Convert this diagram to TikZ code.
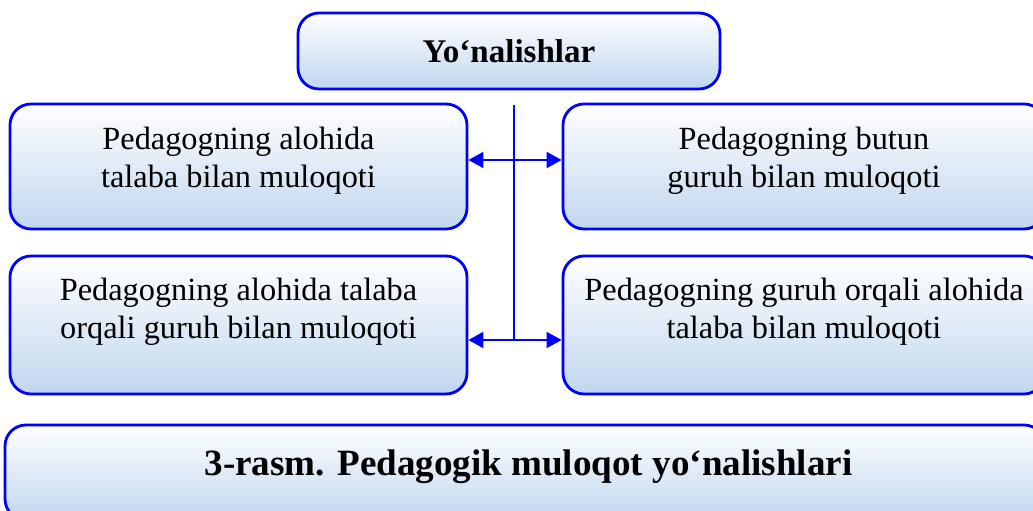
\documentclass[tikz,border=0pt]{standalone}
\usepackage{fontspec}
\setmainfont{Liberation Serif}
\usepackage{xcolor}
\usepackage{tikz}
\usetikzlibrary{positioning}
\usetikzlibrary{arrows.meta}
\definecolor{boxblue}{RGB}{0,0,255}
\definecolor{paleblue}{RGB}{192,214,238}
\tikzset {
  % rounded box with a soft gradient
  main/.style = {draw=boxblue, line width=1.6pt, rounded corners=0.42cm,
    top color=white, bottom color=paleblue, inner sep=0pt},
  % texts inside the boxes
  txt/.style = {align=center, font=\fontsize{18.4}{21.8}\selectfont},
  head/.style = {font=\bfseries\fontsize{18.8}{22}\selectfont},
  % blue connectors
  link/.style = {boxblue, line width=1.1pt},
  both/.style = {link, {Triangle[length=3mm,width=3.2mm]}-{Triangle[length=3mm,width=3.2mm]}},
}

\begin{document}
\begin{tikzpicture}
      \useasboundingbox (0,0) rectangle (20.66,-10.22);
      \clip (0,0) rectangle (20.66,-10.22);

      \node[main, minimum width=8.44cm, minimum height=1.52cm, head] (top) at (10.18, -1.02) {Yo‘nalishlar};

      \node[main, minimum width=9.14cm, minimum height=2.5cm] (lt) at (4.77, -3.33) {};
      \node[main, minimum width=9.64cm, minimum height=2.5cm] (rt) at (16.08, -3.33) {};
      \node[main, minimum width=9.14cm, minimum height=2.76cm] (lb) at (4.77, -6.5) {};
      \node[main, minimum width=9.64cm, minimum height=2.76cm] (rb) at (16.08, -6.5) {};

      \node[txt] (ltt) at ([yshift=0.12cm]lt.center) {Pedagogning alohida\\talaba bilan muloqoti};
      \node[txt] (rtt) at ([yshift=0.12cm]rt.center) {Pedagogning butun\\guruh bilan muloqoti};
      \node[txt] (lbt) at ([yshift=0.26cm]lb.center) {Pedagogning alohida talaba\\orqali guruh bilan muloqoti};
      \node[txt] (rbt) at ([yshift=0.26cm]rb.center) {Pedagogning guruh orqali alohida\\talaba bilan muloqoti};

      \node[main, minimum width=20.8cm, minimum height=1.9cm] (cap) at (10.5, -9.45) {};
      \node[font=\bfseries\fontsize{21.1}{24}\selectfont] (capt) at (10.57, -9.33) {3-rasm. Pedagogik muloqot yo‘nalishlari};

      % spine between the two rows
      \coordinate (s1) at (10.28, -2.1);
      \coordinate (s2) at (10.28, -6.8);
      \draw [link] (s1) -- (s2);

      \draw [both] ([yshift=0.13cm]lt.east) -- ([yshift=0.13cm]rt.west);
      \draw [both] ([yshift=-0.3cm]lb.east) -- ([yshift=-0.3cm]rb.west);
    \end{tikzpicture}
\end{document}
